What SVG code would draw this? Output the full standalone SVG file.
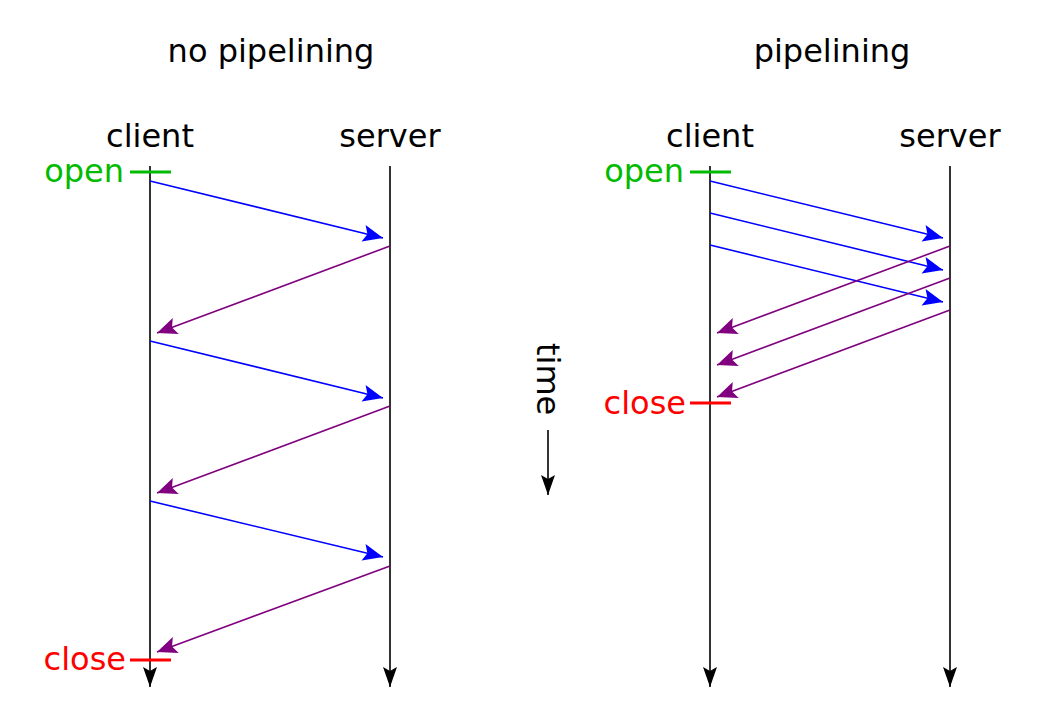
<svg xmlns="http://www.w3.org/2000/svg" width="1047" height="727" viewBox="0 0 1047 727">
<style>
text{font-family:"DejaVu Sans",sans-serif;font-size:32px}
.lbl{text-anchor:middle;fill:#000}
.open{fill:#00bb00;text-anchor:end}
.close{fill:#ff0000;text-anchor:end}
.life{stroke:#333;stroke-width:2;fill:none}
.req{stroke:#0000ff;stroke-width:1.6;fill:none}
.resp{stroke:#800080;stroke-width:1.6;fill:none}
.tickO{stroke:#00bb00;stroke-width:3}
.tickC{stroke:#ff0000;stroke-width:3}
</style>
<defs>
<marker id="aBlk" markerUnits="userSpaceOnUse" viewBox="-22 -10 24 20" refX="0" refY="0" markerWidth="24" markerHeight="20" orient="auto">
<path d="M0,0 L-20,-7 L-16,0 L-20,7 Z" fill="#000"/>
</marker>
<marker id="aBlu" markerUnits="userSpaceOnUse" viewBox="-22 -10 24 20" refX="0" refY="0" markerWidth="24" markerHeight="20" orient="auto">
<path d="M0,0 L-20,-8.5 L-16,0 L-20,8.5 Z" fill="#0000ff"/>
</marker>
<marker id="aPur" markerUnits="userSpaceOnUse" viewBox="-22 -10 24 20" refX="0" refY="0" markerWidth="24" markerHeight="20" orient="auto">
<path d="M0,0 L-20,-8.5 L-16,0 L-20,8.5 Z" fill="#800080"/>
</marker>
</defs>
<text class="lbl" x="271" y="62">no pipelining</text>
<text class="lbl" x="832" y="62">pipelining</text>
<g id="time">
<text transform="translate(537,343) rotate(90)">time</text>
<line class="life" x1="548" y1="430" x2="548" y2="495" marker-end="url(#aBlk)"/>
</g>
<g id="left-client">
<text class="lbl" x="150" y="147">client</text>
<line class="life" x1="150" y1="166" x2="150" y2="687" marker-end="url(#aBlk)"/>
</g>
<g id="left-server">
<text class="lbl" x="390" y="147">server</text>
<line class="life" x1="390" y1="166" x2="390" y2="687" marker-end="url(#aBlk)"/>
</g>
<g id="left-open">
<text class="open" x="124" y="182">open</text>
<line class="tickO" x1="130" y1="172" x2="171" y2="172"/>
</g>
<g id="left-close">
<text class="close" x="126" y="670">close</text>
<line class="tickC" x1="130" y1="660" x2="171" y2="660"/>
</g>
<g id="right-client">
<text class="lbl" x="710" y="147">client</text>
<line class="life" x1="710" y1="166" x2="710" y2="687" marker-end="url(#aBlk)"/>
</g>
<g id="right-server">
<text class="lbl" x="950" y="147">server</text>
<line class="life" x1="950" y1="166" x2="950" y2="687" marker-end="url(#aBlk)"/>
</g>
<g id="right-open">
<text class="open" x="684" y="182">open</text>
<line class="tickO" x1="690" y1="172" x2="731" y2="172"/>
</g>
<g id="right-close">
<text class="close" x="686" y="414">close</text>
<line class="tickC" x1="690" y1="403" x2="731" y2="403"/>
</g>
<g id="connectors">
<line class="req" x1="150" y1="181" x2="383" y2="238" marker-end="url(#aBlu)"/>
<line class="resp" x1="390" y1="246" x2="157" y2="333" marker-end="url(#aPur)"/>
<line class="req" x1="150" y1="341" x2="383" y2="398" marker-end="url(#aBlu)"/>
<line class="resp" x1="390" y1="406" x2="157" y2="493" marker-end="url(#aPur)"/>
<line class="req" x1="150" y1="501" x2="383" y2="557" marker-end="url(#aBlu)"/>
<line class="resp" x1="390" y1="566" x2="157" y2="652" marker-end="url(#aPur)"/>
<line class="req" x1="710" y1="181" x2="943" y2="238" marker-end="url(#aBlu)"/>
<line class="req" x1="710" y1="213" x2="943" y2="270" marker-end="url(#aBlu)"/>
<line class="req" x1="710" y1="245" x2="943" y2="302" marker-end="url(#aBlu)"/>
<line class="resp" x1="950" y1="246" x2="717" y2="333" marker-end="url(#aPur)"/>
<line class="resp" x1="950" y1="278" x2="717" y2="365" marker-end="url(#aPur)"/>
<line class="resp" x1="950" y1="310" x2="717" y2="397" marker-end="url(#aPur)"/>
</g>
</svg>
